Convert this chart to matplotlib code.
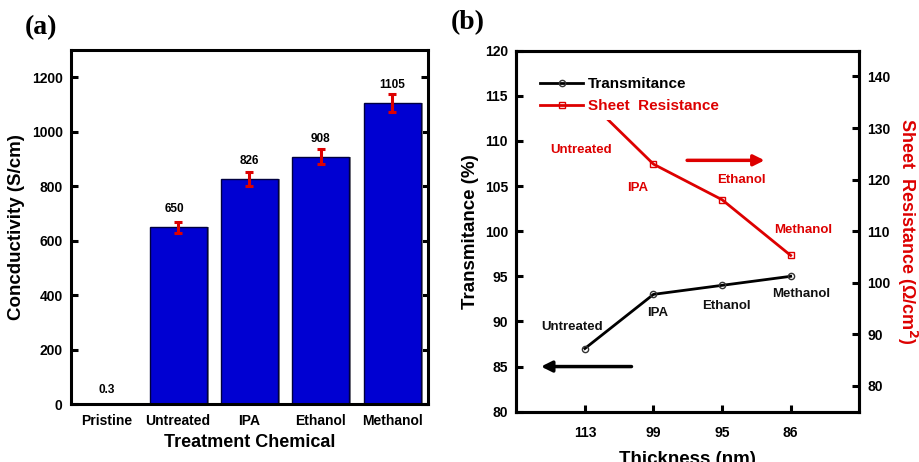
import matplotlib
matplotlib.use("Agg")
import matplotlib.pyplot as plt
import matplotlib.patheffects as pe
import numpy as np

plt.rcParams["font.family"] = ["Liberation Sans", "DejaVu Sans"]
plt.rcParams["font.weight"] = "bold"

# (a) conductivity data
chemicals = ["Pristine", "Untreated", "IPA", "Ethanol", "Methanol"]
conductivity = [0.3, 650, 826, 908, 1105]
cond_err = [0, 20, 25, 27, 34]
cond_labels = ["0.3", "650", "826", "908", "1105"]

# (b) transmittance / sheet resistance data
thickness = ["113", "99", "95", "86"]
film_names = ["Untreated", "IPA", "Ethanol", "Methanol"]
transmittance = [87, 93, 94, 95]
sheet_res = [136, 123, 116.1, 105.3]

blue = "#0000d2"
red = "#dd0000"
lw_spine = 2.2

fig = plt.figure(figsize=(9.19, 4.62), dpi=100)

# ---------------- panel (a)
ax = fig.add_axes([0.0773, 0.1249, 0.3881, 0.7669])
x = np.arange(len(chemicals))
bars = ax.bar(x, conductivity, width=0.8, color=blue, edgecolor="#000040", linewidth=1.0,
              zorder=2)
for b in bars:
    b.set_path_effects([pe.SimplePatchShadow(offset=(1.5, 0), shadow_rgbFace="#888888", alpha=1),
                        pe.Normal()])
ax.errorbar(x[1:], conductivity[1:], yerr=cond_err[1:], fmt="none", ecolor=red,
            elinewidth=2.2, capsize=3, capthick=2.2, zorder=3)
for xi, yi, lab, e in zip(x, conductivity, cond_labels, cond_err):
    off = 45 if yi > 1 else 30
    ax.text(xi - 0.05 if xi == 1 else xi, yi + off, lab, ha="center", va="bottom",
            fontsize=8.5, fontweight="bold")
ax.set_xlim(-0.5, 4.5)
ax.set_ylim(0, 1300)
ax.set_yticks([0, 200, 400, 600, 800, 1000, 1200])
ax.set_xticks(x)
ax.set_xticklabels(chemicals)
ax.tick_params(axis="y", direction="in", length=5, width=lw_spine, right=True,
               labelsize=10, pad=6)
ax.tick_params(axis="x", length=0, labelsize=10, pad=7)
for s in ax.spines.values():
    s.set_linewidth(lw_spine)
ax.set_xlabel("Treatment Chemical", fontsize=13, fontweight="bold", labelpad=4)
ax.set_ylabel("Concductivity (S/cm)", fontsize=13.5, fontweight="bold", labelpad=5)

# ---------------- panel (b)
ax1 = fig.add_axes([0.5618, 0.1089, 0.3732, 0.7814])
xb = np.arange(len(thickness))
l1, = ax1.plot(xb, transmittance, "-o", color="black", lw=2, ms=4.5,
               mfc="none", mec="#333333", mew=1, label="Transmitance")
ax1.set_xlim(-1, 4)
ax1.set_ylim(80, 120)
ax1.set_yticks(np.arange(80, 121, 5))
ax1.set_xticks(xb)
ax1.set_xticklabels(thickness)
ax1.tick_params(axis="y", direction="in", length=5, width=lw_spine, labelsize=10, pad=6)
ax1.tick_params(axis="x", direction="in", length=5, width=lw_spine, labelsize=10, pad=10)
for s in ax1.spines.values():
    s.set_linewidth(lw_spine)
ax1.set_xlabel("Thickness (nm)", fontsize=13.5, fontweight="bold", labelpad=8)
ax1.set_ylabel("Transmitance (%)", fontsize=13.5, fontweight="bold", labelpad=4)

ax2 = ax1.twinx()
l2, = ax2.plot(xb, sheet_res, "-s", color=red, lw=2, ms=5,
               mfc="none", mec=red, mew=1, label="Sheet  Resistance")
ax2.set_ylim(75, 145)
ax2.set_yticks(np.arange(80, 141, 10))
ax2.tick_params(axis="y", direction="in", length=5, width=lw_spine, labelsize=10, pad=6)
for s in ax2.spines.values():
    s.set_linewidth(lw_spine)
ax2.set_ylabel("Sheet  Resistance (\u03a9/cm$^\\mathbf{2}$)", color=red, fontsize=13,
               fontweight="bold", rotation=270, labelpad=20)

# annotations (positions in left-axis coordinates)
black_pos = [(-0.19, 89.4), (1.06, 90.9), (2.06, 91.75), (3.16, 93.0)]
red_pos = [(-0.06, 109.0), (0.77, 104.75), (2.28, 105.7), (3.18, 100.1)]
for name, (tx, ty) in zip(film_names, black_pos):
    ax1.text(tx, ty, name, ha="center", va="center", fontsize=9.5, fontweight="bold",
             color="#111111")
for name, (tx, ty) in zip(film_names, red_pos):
    ax1.text(tx, ty, name, ha="center", va="center", fontsize=9.5, fontweight="bold", color=red)

ax1.annotate("", xy=(-0.68, 85), xytext=(0.72, 85),
             arrowprops=dict(arrowstyle="-|>", color="black", lw=2.5, mutation_scale=16))
ax1.annotate("", xy=(2.66, 107.85), xytext=(1.45, 107.85),
             arrowprops=dict(arrowstyle="-|>", color=red, lw=2.5, mutation_scale=16))

leg = ax2.legend(handles=[l1, l2], loc="upper left", bbox_to_anchor=(0.03, 0.965),
                 fontsize=11, frameon=True, framealpha=1, facecolor="white",
                 edgecolor="none", handlelength=2.8, handletextpad=0.3,
                 borderpad=0.4, labelspacing=0.55)
for t, c in zip(leg.get_texts(), ["black", red]):
    t.set_color(c)
    t.set_fontweight("bold")

fig.text(0.027, 0.94, "(a)", family="Liberation Serif", fontweight="bold", fontsize=20,
         va="center")
fig.text(0.49, 0.95, "(b)", family="Liberation Serif", fontweight="bold", fontsize=20,
         va="center")

fig.savefig("out.png", dpi=100)
